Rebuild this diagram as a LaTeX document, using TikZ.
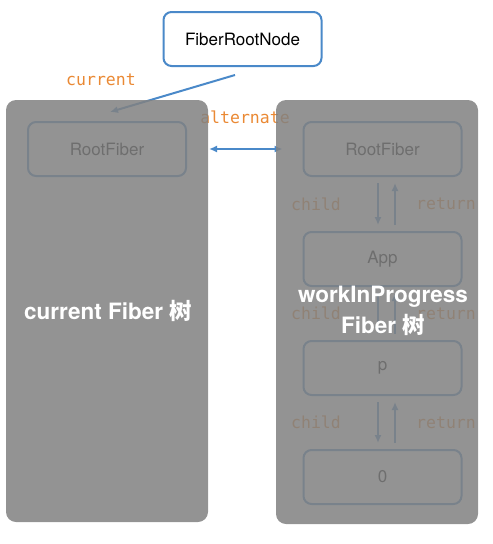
\documentclass[tikz,border=0pt]{standalone}
\usepackage{fontspec}
\setmainfont{TeX Gyre Heros}
\setmonofont{DejaVu Sans Mono}
\newfontfamily\cjk{Noto Sans CJK SC}
\usetikzlibrary{arrows.meta}
\definecolor{bordure}{RGB}{74,137,201}
\definecolor{etiq}{RGB}{234,137,52}
\definecolor{voile}{RGB}{129,129,129}

\tikzset{
	fiber/.style={draw=bordure, line width=2pt, rounded corners=8pt, fill=white,
		minimum width=158pt, minimum height=54pt, font=\fontsize{17}{20}\selectfont},
	fleche/.style={draw=bordure, line width=2pt, -{Latex[length=8pt,width=7pt]}},
	lien/.style={text=etiq, font=\ttfamily\fontsize{16.5}{20}\selectfont},
	titre/.style={text=white, align=center, font=\bfseries\fontsize{22.5}{31}\selectfont}
}

\begin{document}
\begin{tikzpicture}[x=1pt, y=-1pt]
			\useasboundingbox (0,0) rectangle (493,544);

			\node[fiber] (frn) at (242.5,39) {FiberRootNode};
			\node[fiber] (rootL) at (107,149) {RootFiber};

			% arbre de droite
			\foreach \nom/\texte/\y in {rootR/RootFiber/149, app/App/259, p/p/368, zero/0/477} {
				\node[fiber] (\nom) at (382.5,\y) {\texte};
			}
			\foreach \haut/\bas in {rootR/app, app/p, p/zero} {
				\draw[fleche] ([xshift=-4.5pt,yshift=-6pt]\haut.south) -- ([xshift=-4.5pt,yshift=6pt]\bas.north)
					node[midway, lien, xshift=-62pt] {child};
				\draw[fleche] ([xshift=12.5pt,yshift=6pt]\bas.north) -- ([xshift=12.5pt,yshift=-6pt]\haut.south)
					node[midway, lien, xshift=51pt] {return};
			}

			% pointeurs
			\coordinate (depart) at (235,75);
			\coordinate (arrivee) at (110,112);
			\draw[fleche] (depart) -- (arrivee);
			\node[lien] (cur) at (101,80) {current};
			\draw[fleche, {Latex[length=8pt,width=7pt]}-{Latex[length=8pt,width=7pt]}, shorten <=22pt, shorten >=20pt]
				(rootL.east) -- (rootR.west);
			\node[lien] (alt) at (245,117) {alternate};

			% voiles
			\fill[voile, opacity=0.855, rounded corners=10pt] (6,100) rectangle (208,522);
			\fill[voile, opacity=0.855, rounded corners=10pt] (276,100) rectangle (478,524);
			\node[titre] (courant) at (108,311) {current Fiber {\cjk 树}};
			\node[titre] (wip) at (383,311) {workInProgress\\Fiber {\cjk 树}};
		\end{tikzpicture}
\end{document}
